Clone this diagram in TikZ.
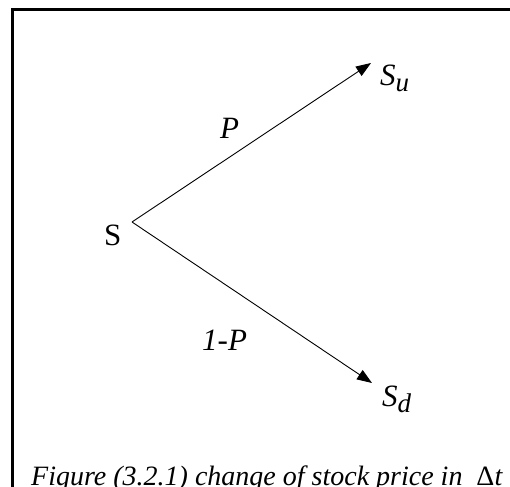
\documentclass[tikz,border=0pt]{standalone}
\usepackage{fix-cm}
\usepackage{fontspec}
\setmainfont{Liberation Serif}
\usetikzlibrary{arrows.meta}
\newcommand{\subsz}[1]{\raisebox{-6pt}{\fontsize{27}{30}\selectfont\itshape #1}}
\begin{document}
\begin{tikzpicture}[x=1pt,y=-1pt,
  lbl/.style={inner sep=0pt, anchor=base west, font=\fontsize{31}{36}\selectfont},
  captext/.style={inner sep=0pt, anchor=base west, font=\fontsize{28}{33}\selectfont\itshape},
  conn/.style={line width=0.9pt, -{Triangle[length=15pt,width=11pt]}}]
\useasboundingbox (0,0) rectangle (510,486);
\draw[line width=3pt] (12.5,520) -- (12.5,9.5) -- (530,9.5);
\coordinate (v) at (132,222);
\coordinate (u) at (371,63);
\coordinate (d) at (372,383);
\node[lbl] (s) at (104,245) {S};
\node[lbl] (su) at (380,86) {\itshape S\subsz{u}};
\node[lbl] (sd) at (382,406) {\itshape S\subsz{d}};
\node[lbl] (p) at (220,139) {\itshape P};
\node[lbl] (q) at (202,350.5) {\itshape 1-P};
\node[captext] (c) at (31,485.5) {Figure (3.2.1) change of stock price in\ \ {\upshape Δ}t};
\draw[conn] (v) -- (u);
\draw[conn] (v) -- (d);
\end{tikzpicture}
\end{document}
